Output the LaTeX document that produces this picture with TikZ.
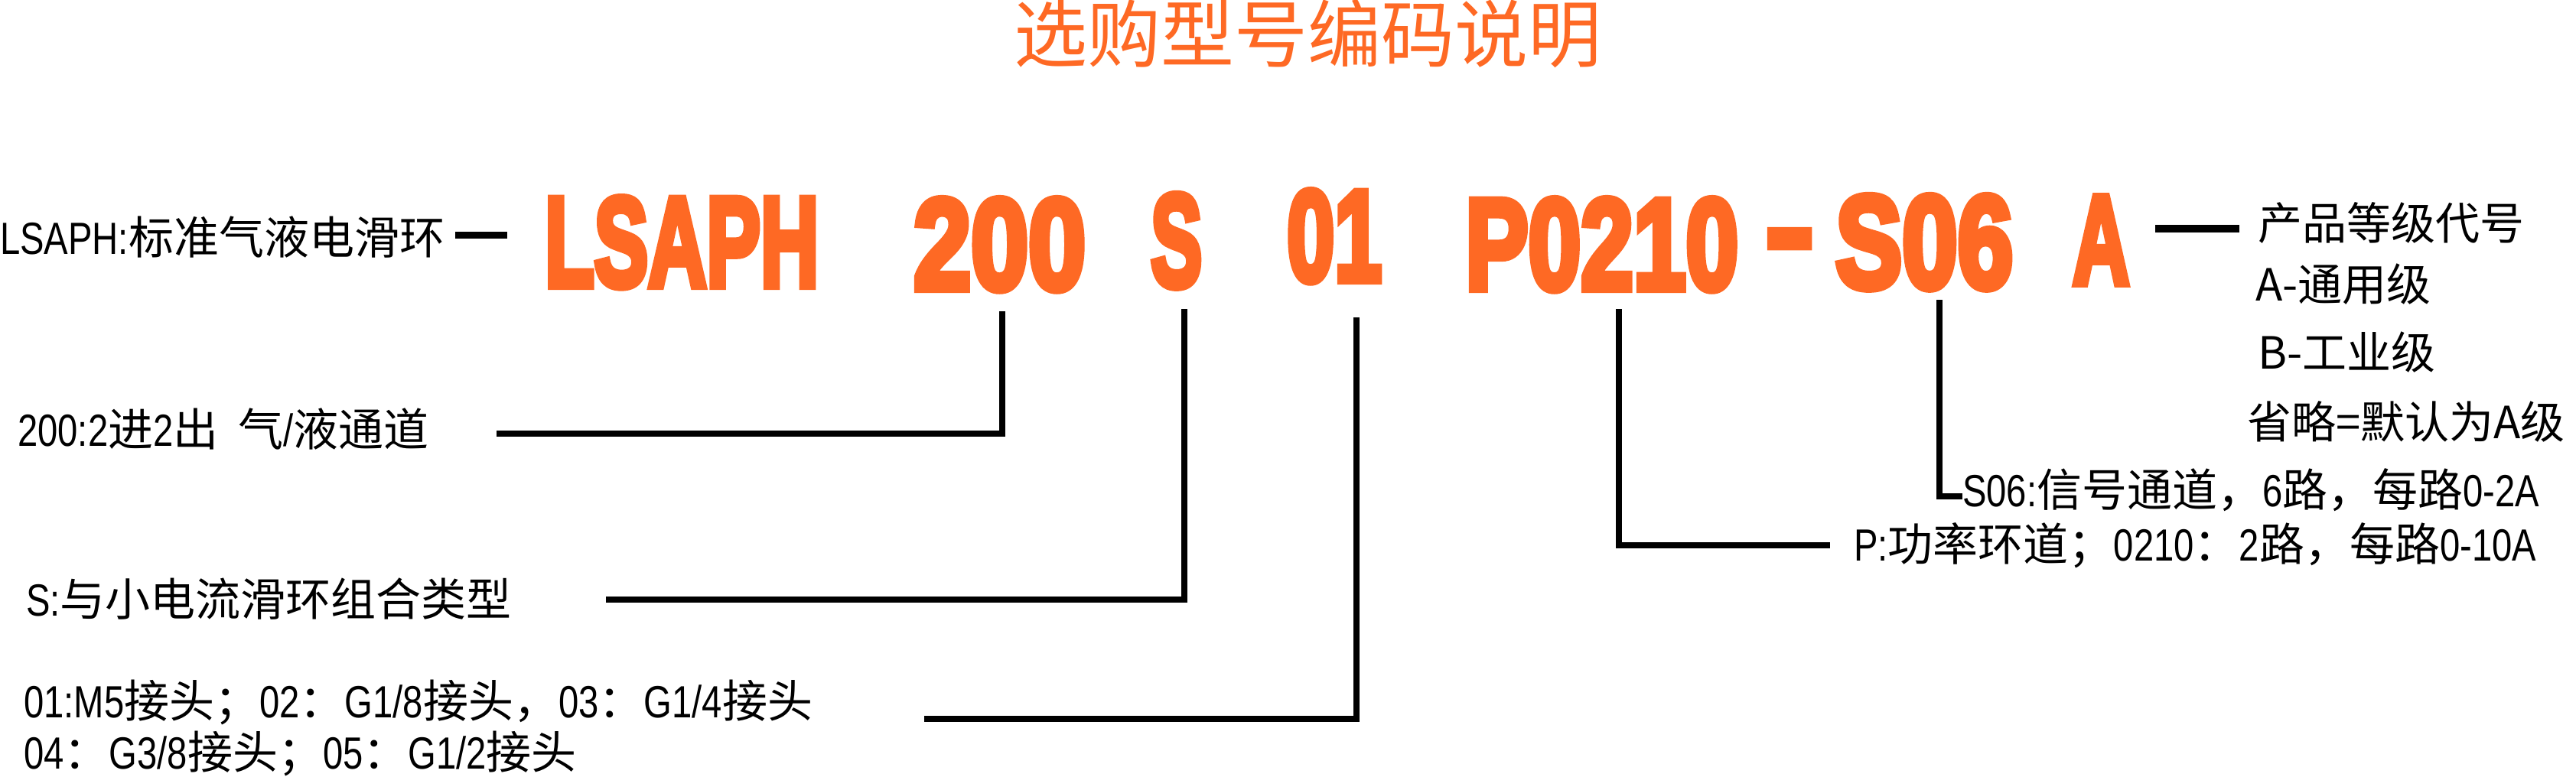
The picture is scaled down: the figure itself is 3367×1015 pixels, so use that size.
\documentclass[tikz,border=0pt]{standalone}
\usepackage{fontspec}
\setmainfont{Liberation Sans}[FakeStretch=0.8]
\newfontfamily\cjk{Noto Sans CJK SC}
\newfontfamily\codefont{Liberation Sans}[BoldFeatures={FakeBold=6}]
\newcommand\C[1]{{\cjk #1}}
\definecolor{codeorange}{RGB}{254,105,36}
\tikzset{
  lbl/.style={inner sep=0pt, anchor=base west, font=\fontsize{59}{70}\selectfont},
  rlbl/.style={inner sep=0pt, anchor=base west, font=\fontsize{58}{70}\selectfont\cjk},
  codetok/.style={inner sep=0pt, anchor=base west, text=codeorange, font=\fontsize{170}{180}\selectfont\codefont\bfseries},
  conn/.style={draw=black, line width=8pt},
  titlestyle/.style={inner sep=0pt, anchor=base, text=codeorange, font=\fontsize{96}{110}\selectfont\cjk}
}
\begin{document}
\begin{tikzpicture}[x=1pt,y=-1pt]
\useasboundingbox (0,0) rectangle (3367,1015);
\fill[white] (0,0) rectangle (3367,1015);

% title
\node[titlestyle] (title) at (1709,80) {选购型号编码说明};

% code tokens
\node[codetok] (cLSAPH) at (712,374) {\resizebox{358pt}{116pt}{LSAPH}};
\node[codetok] (c200) at (1194,378) {\resizebox{225pt}{118pt}{200}};
\node[codetok] (cS) at (1504,374) {\resizebox{67pt}{120pt}{S}};
\node[codetok] (c01) at (1682,367) {\resizebox{124pt}{118pt}{01}};
\node[codetok] (cP) at (1915,378) {\resizebox{357pt}{118pt}{P0210}};
\node[codetok] (cdash) at (2308,356) {\resizebox{62pt}{54pt}{-}};
\node[codetok] (cS06) at (2399,376) {\resizebox{232pt}{120pt}{S06}};
\node[codetok] (cA) at (2709,371) {\resizebox{74pt}{114pt}{A}};

% left labels
\node[lbl] (lLSAPH) at (0,332) {LSAPH:\C{标准气液电滑环}};
\node[lbl] (l200) at (23,583) {200:2\C{进}2\C{出}\ \ \C{气}/\C{液通道}};
\node[lbl] (lS) at (34,805) {S:\C{与小电流滑环组合类型}};
\node[lbl] (l01a) at (31,938) {01:M5\C{接头；}02\C{：}G1/8\C{接头，}03\C{：}G1/4\C{接头}};
\node[lbl] (l01b) at (31,1005) {04\C{：}G3/8\C{接头；}05\C{：}G1/2\C{接头}};

% right labels
\node[rlbl] (grade) at (2951,313) {产品等级代号};
\node[rlbl] (gA) at (2948,393) {A-通用级};
\node[rlbl] (gB) at (2951,482) {B-工业级};
\node[rlbl] (gDef) at (2937,573) {省略=默认为A级};
\node[lbl] (lS06) at (2565,662) {S06:\C{信号通道，}6\C{路，每路}0-2A};
\node[lbl] (lP) at (2423,733) {P:\C{功率环道；}0210\C{：}2\C{路，每路}0-10A};

% connector end points
\coordinate (dL1) at (595,307);  \coordinate (dL2) at (663,307);
\coordinate (dA1) at (2817,299); \coordinate (dA2) at (2927,299);
\coordinate (h200) at (649,567); \coordinate (v200) at (1310,407);
\coordinate (hS) at (792,784);   \coordinate (vS) at (1548,404);
\coordinate (h01) at (1208,940); \coordinate (v01) at (1773,415);
\coordinate (vP) at (2116,404);  \coordinate (hP) at (2392,713);
\coordinate (vS06) at (2535,392); \coordinate (hS06) at (2565,649);

\draw[conn, line width=9pt] (dL1) -- (dL2);
\draw[conn, line width=10pt] (dA1) -- (dA2);
\draw[conn] (h200) -| (v200);
\draw[conn] (hS) -| (vS);
\draw[conn] (h01) -| (v01);
\draw[conn] (vP) |- (hP);
\draw[conn] (vS06) |- (hS06);
\end{tikzpicture}
\end{document}
